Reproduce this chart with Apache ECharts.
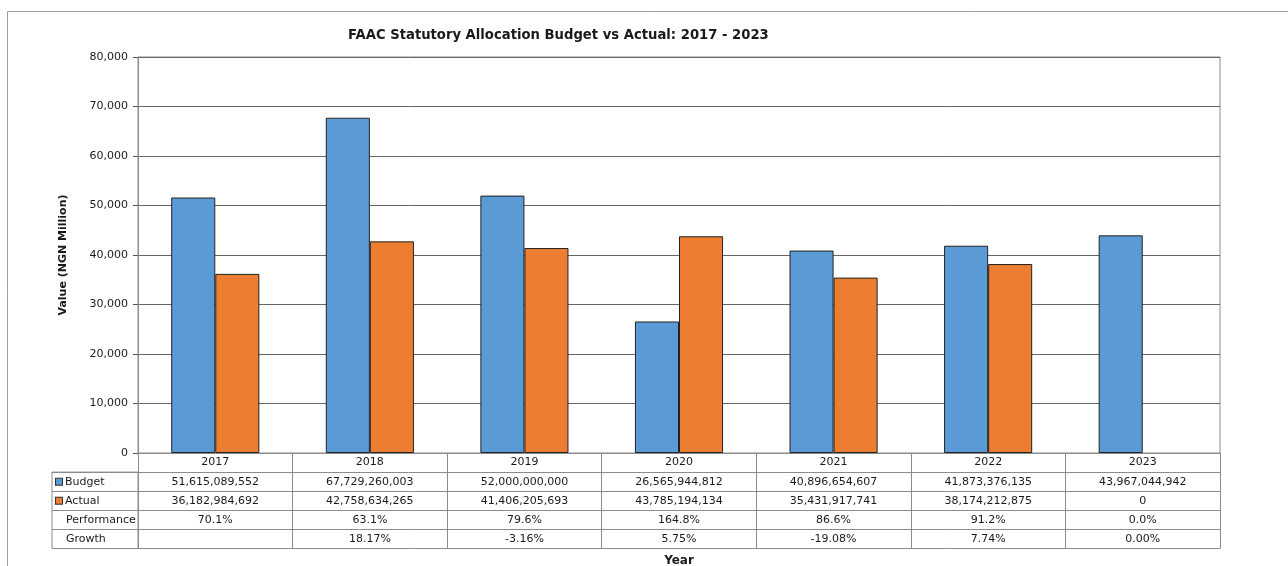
<!DOCTYPE html>
<html>
<head>
<meta charset="utf-8">
<script src="https://cdn.jsdelivr.net/npm/echarts@6/dist/echarts.min.js"></script>
<style>
  html, body { margin: 0; padding: 0; background: #fff; }
  #chart { width: 1288px; height: 566px; }
</style>
</head>
<body>
<div id="chart"></div>
<script>
// FAAC statutory allocation, budget vs actual (values in naira)
const years = ['2017', '2018', '2019', '2020', '2021', '2022', '2023'];
const budgetNaira = [51615089552, 67729260003, 52000000000, 26565944812, 40896654607, 41873376135, 43967044942];
const actualNaira = [36182984692, 42758634265, 41406205693, 43785194134, 35431917741, 38174212875, 0];
const performance = ['70.1%', '63.1%', '79.6%', '164.8%', '86.6%', '91.2%', '0.0%'];
const growth = ['', '18.17%', '-3.16%', '5.75%', '-19.08%', '7.74%', '0.00%'];
const rowNames = ['Budget', 'Actual', 'Performance', 'Growth'];
const valueTicks = { min: 0, max: 80000, interval: 10000 };

const FONT = 'DejaVu Sans';
const BLUE = '#5B9BD5';
const ORANGE = '#ED7D31';
const LINE = '#8c8c8c';
const TEXT = '#1a1a1a';
const ROW_H = 19.1;

const GRID_LEFT = 138, GRID_TOP = 57, GRID_W = 1082, GRID_H = 396;

const fmtInt = v => v.toLocaleString('en-US');
// bars are plotted in millions; an empty bar gets no outline
const toBarData = arr => arr.map(v => ({
  value: v / 1e6,
  itemStyle: v === 0 ? { borderWidth: 0 } : undefined
}));

// one row of the data table, hung under the plot as an offset category axis
function tableRow(data, k, extra) {
  return Object.assign({
    type: 'category',
    gridIndex: 0,
    position: 'bottom',
    offset: k * ROW_H,
    data: data,
    axisLine: { show: true, lineStyle: { color: LINE, width: 1 } },
    axisTick: { show: true, interval: 0, length: ROW_H, lineStyle: { color: LINE, width: 1 } },
    axisLabel: {
      show: true, interval: 0, margin: ROW_H / 2, verticalAlign: 'middle',
      color: TEXT, fontSize: 11, fontFamily: FONT
    },
    splitLine: { show: false }
  }, extra || {});
}

const chart = echarts.init(document.getElementById('chart'), null, { renderer: 'canvas' });

chart.setOption({
  animation: false,
  backgroundColor: '#fff',
  textStyle: { fontFamily: FONT },
  title: {
    text: 'FAAC Statutory Allocation Budget vs Actual: 2017 - 2023',
    left: 343, top: 24,
    textStyle: { fontFamily: FONT, fontSize: 13.2, fontWeight: 'bold', color: TEXT }
  },
  graphic: [{
    type: 'rect', silent: true, z: -1,
    shape: { x: 7.5, y: 11.5, width: 1400, height: 700 },
    style: { fill: 'none', stroke: '#a0a0a0', lineWidth: 1 }
  }],
  grid: [
    { left: GRID_LEFT, top: GRID_TOP, width: GRID_W, height: GRID_H,
      outerBoundsMode: 'none', containLabel: false,
      show: true, borderColor: LINE, borderWidth: 1, backgroundColor: '#fff' },
    // row-header column of the table
    { left: 52, top: GRID_TOP + GRID_H + ROW_H, width: GRID_LEFT - 52, height: 4 * ROW_H,
      outerBoundsMode: 'none', containLabel: false,
      show: true, borderColor: LINE, borderWidth: 1 }
  ],
  xAxis: [
    tableRow(years, 0),
    tableRow(budgetNaira.map(fmtInt), 1),
    tableRow(actualNaira.map(fmtInt), 2),
    tableRow(performance, 3),
    tableRow(growth, 4),
    tableRow(years, 5, {
      axisTick: { show: false },
      axisLabel: { show: false },
      name: 'Year', nameLocation: 'middle', nameGap: 6,
      nameTextStyle: { fontFamily: FONT, fontSize: 12, fontWeight: 'bold', color: TEXT, verticalAlign: 'top' }
    }),
    { type: 'value', gridIndex: 1, show: false }
  ],
  yAxis: [
    {
      type: 'value', gridIndex: 0,
      min: valueTicks.min, max: valueTicks.max, interval: valueTicks.interval,
      name: 'Value (NGN Million)', nameLocation: 'middle', nameGap: 69,
      nameTextStyle: { fontFamily: FONT, fontSize: 11, fontWeight: 'bold', color: TEXT },
      axisLine: { show: true, lineStyle: { color: LINE } },
      axisTick: { show: true, length: 5, lineStyle: { color: '#555' } },
      axisLabel: { color: TEXT, fontSize: 11, fontFamily: FONT, margin: 10, formatter: v => fmtInt(v) },
      splitLine: { show: true, lineStyle: { color: '#666', width: 1 } }
    },
    {
      type: 'category', gridIndex: 1, data: rowNames, inverse: true,
      axisLine: { show: false },
      axisTick: { show: false },
      splitLine: { show: true, interval: 0, lineStyle: { color: LINE, width: 1 } },
      axisLabel: {
        inside: true, margin: 4, align: 'left', interval: 0,
        color: TEXT, fontSize: 11, fontFamily: FONT,
        formatter: function (name) {
          if (name === 'Budget') return '{sb|}{gap|}' + name;
          if (name === 'Actual') return '{sa|}{gap|}' + name;
          return '{pad|}' + name;
        },
        rich: {
          sb: { width: 6, height: 6, backgroundColor: BLUE, borderColor: '#333', borderWidth: 1 },
          sa: { width: 6, height: 6, backgroundColor: ORANGE, borderColor: '#333', borderWidth: 1 },
          gap: { width: 3 },
          pad: { width: 10 }
        }
      }
    }
  ],
  series: [
    {
      name: 'Budget', type: 'bar', xAxisIndex: 0, yAxisIndex: 0,
      data: toBarData(budgetNaira),
      barGap: '0%', barCategoryGap: '43%',
      itemStyle: { color: BLUE, borderColor: '#222', borderWidth: 1 }
    },
    {
      name: 'Actual', type: 'bar', xAxisIndex: 0, yAxisIndex: 0,
      data: toBarData(actualNaira),
      barGap: '0%', barCategoryGap: '43%',
      itemStyle: { color: ORANGE, borderColor: '#222', borderWidth: 1 }
    }
  ]
});
</script>
</body>
</html>
